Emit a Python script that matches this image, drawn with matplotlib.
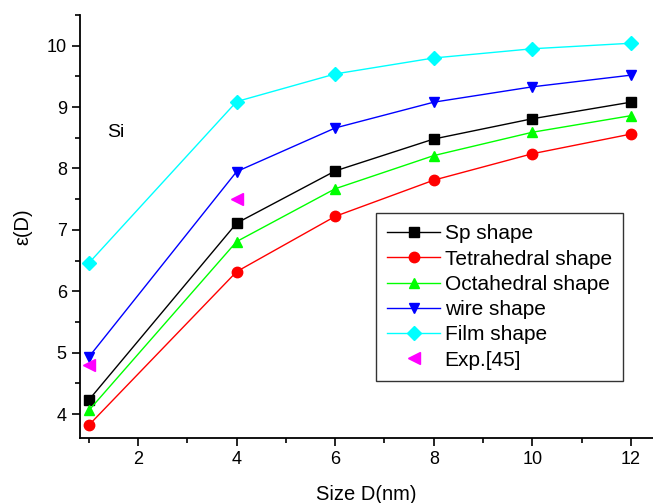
import matplotlib
matplotlib.use("Agg")
import matplotlib.pyplot as plt
from matplotlib.ticker import MultipleLocator

plt.rcParams['font.family'] = ['Liberation Sans', 'DejaVu Sans']

size = [1, 4, 6, 8, 10, 12]
sp = [4.23, 7.11, 7.96, 8.48, 8.81, 9.08]
tetra = [3.82, 6.32, 7.22, 7.81, 8.24, 8.56]
octa = [4.06, 6.81, 7.67, 8.21, 8.59, 8.86]
wire = [4.93, 7.95, 8.66, 9.08, 9.33, 9.52]
film = [6.46, 9.09, 9.54, 9.80, 9.95, 10.04]
exp_size = [1, 4]
exp_val = [4.80, 7.50]

fig = plt.figure(figsize=(6.53, 5.03), dpi=100)
ax = fig.add_axes([80 / 653, 1 - 438 / 503, 573 / 653, 423 / 503])

kw = dict(lw=1, ms=7.5)
ax.plot(size, sp, '-s', color='black', label='Sp shape', **kw)
ax.plot(size, tetra, '-o', color='red', label='Tetrahedral shape', **kw)
ax.plot(size, octa, '-^', color='#00ff00', label='Octahedral shape', **kw)
ax.plot(size, wire, '-v', color='blue', label='wire shape', **kw)
ax.plot(size, film, '-D', color='cyan', label='Film shape', lw=1, ms=7)
ax.plot(exp_size, exp_val, '<', color='magenta', ls='none', label='Exp.[45]', ms=8.5)

ax.set_xlim(0.82, 12.45)
ax.set_ylim(3.61, 10.5)
ax.xaxis.set_major_locator(MultipleLocator(2))
ax.xaxis.set_minor_locator(MultipleLocator(1))
ax.yaxis.set_major_locator(MultipleLocator(1))
ax.yaxis.set_minor_locator(MultipleLocator(0.5))
ax.tick_params(which='major', length=6, width=1.2, labelsize=13, direction='out')
ax.tick_params(which='minor', length=3.5, width=1.2, direction='out')
for s in ['top', 'right']:
    ax.spines[s].set_visible(False)
for s in ['left', 'bottom']:
    ax.spines[s].set_linewidth(1.3)

ax.set_xlabel('Size D(nm)', fontsize=14.5, labelpad=12)
ax.set_ylabel('ε(D)', fontsize=14.5, labelpad=10)
ax.text(1.38, 8.58, 'Si', fontsize=14, va='center')

leg = ax.legend(loc='upper left', bbox_to_anchor=(296 / 573, 1 - 198 / 423), fontsize=15,
                frameon=True, fancybox=False, edgecolor='black', handlelength=2.5,
                borderpad=0.55, labelspacing=0.3, handletextpad=0.25, borderaxespad=0)
leg.get_frame().set_linewidth(1)

fig.savefig('out.png', dpi=100)
